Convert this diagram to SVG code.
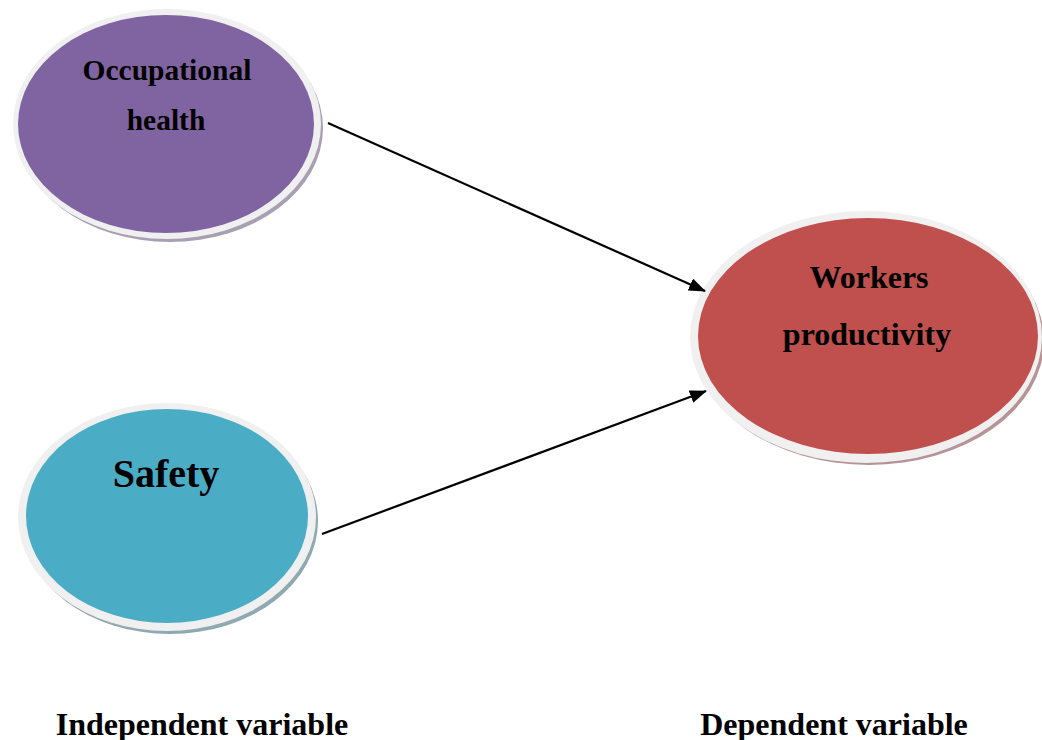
<svg xmlns="http://www.w3.org/2000/svg" width="1042" height="740" viewBox="0 0 1042 740">
  <defs>
    <style>
      .rim { fill: #f0f0f0; }
      .lbl { font-family: "Liberation Serif", "Times New Roman", serif; font-weight: bold; fill: #000; text-anchor: middle; }
      .edge { stroke: #000; stroke-width: 2.2; fill: none; marker-end: url(#arrow); }
    </style>
    <marker id="arrow" markerWidth="17" markerHeight="13" refX="16" refY="6.5" orient="auto" markerUnits="userSpaceOnUse">
      <path d="M0,0 L17,6.5 L0,13 Z" fill="#000"/>
    </marker>
  </defs>
  <rect width="1042" height="740" fill="#fff"/>

  <!-- Occupational health -->
  <g id="node-occupational-health">
    <ellipse cx="170" cy="128" rx="153" ry="114" fill="#a89fb2"/>
    <ellipse class="rim" cx="167" cy="124" rx="154" ry="115"/>
    <ellipse cx="166" cy="124" rx="148" ry="109" fill="#8064a2"/>
    <text class="lbl" x="167" y="80" font-size="29.5">Occupational</text>
    <text class="lbl" x="166" y="130" font-size="29.5">health</text>
  </g>

  <!-- Safety -->
  <g id="node-safety">
    <ellipse cx="170" cy="521" rx="148" ry="113" fill="#8fa9b1"/>
    <ellipse class="rim" cx="167" cy="517" rx="149" ry="114"/>
    <ellipse cx="167" cy="516" rx="141" ry="107" fill="#4bacc6"/>
    <text class="lbl" x="166" y="487" font-size="40">Safety</text>
  </g>

  <!-- Workers productivity -->
  <g id="node-workers-productivity">
    <ellipse cx="869" cy="341" rx="175" ry="124" fill="#b59396"/>
    <ellipse class="rim" cx="866" cy="337" rx="176" ry="126"/>
    <ellipse cx="868" cy="336" rx="170" ry="118" fill="#c0504d"/>
    <text class="lbl" x="869" y="288" font-size="32">Workers</text>
    <text class="lbl" x="867" y="345" font-size="32">productivity</text>
  </g>

  <!-- Connectors -->
  <g id="connectors">
    <line class="edge" x1="328" y1="123" x2="705" y2="291"/>
    <line class="edge" x1="322" y1="534" x2="706" y2="391"/>
  </g>

  <!-- Column captions -->
  <g id="captions">
    <text class="lbl" x="202" y="735" font-size="32">Independent variable</text>
    <text class="lbl" x="834" y="735" font-size="32">Dependent variable</text>
  </g>
</svg>
